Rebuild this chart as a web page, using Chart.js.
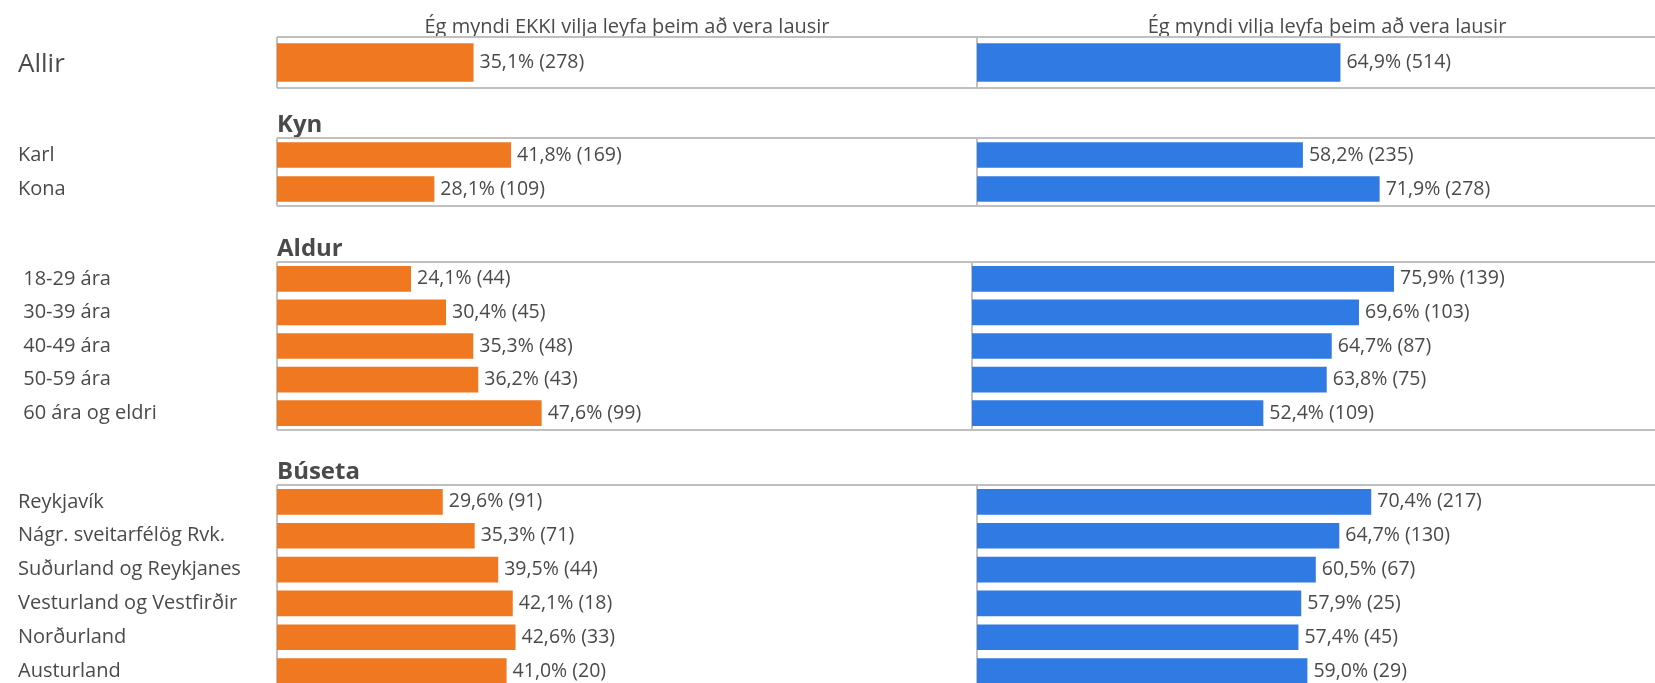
<!DOCTYPE html>
<html>
<head>
<meta charset="utf-8">
<script src="https://cdn.jsdelivr.net/npm/chart.js@4"></script>
<style>
html,body{margin:0;padding:0;background:#fff;}
body{width:1655px;height:683px;overflow:hidden;position:relative;}
canvas{position:absolute;left:0;}
</style>
</head>
<body>
<script>
// ---------- data ----------
const headers = ['Ég myndi EKKI vilja leyfa þeim að vera lausir', 'Ég myndi vilja leyfa þeim að vera lausir'];

const allirLabels = ['Allir'];
const allirEkki = [35.1];
const allirEkkiN = [278];
const allirJa = [64.9];
const allirJaN = [514];

const kynTitle = 'Kyn';
const kynLabels = ['Karl', 'Kona'];
const kynEkki = [41.8, 28.1];
const kynEkkiN = [169, 109];
const kynJa = [58.2, 71.9];
const kynJaN = [235, 278];

const aldurTitle = 'Aldur';
const aldurLabels = [' 18-29 ára', ' 30-39 ára', ' 40-49 ára', ' 50-59 ára', ' 60 ára og eldri'];
const aldurEkki = [24.1, 30.4, 35.3, 36.2, 47.6];
const aldurEkkiN = [44, 45, 48, 43, 99];
const aldurJa = [75.9, 69.6, 64.7, 63.8, 52.4];
const aldurJaN = [139, 103, 87, 75, 109];

const busetaTitle = 'Búseta';
const busetaLabels = ['Reykjavík', 'Nágr. sveitarfélög Rvk.', 'Suðurland og Reykjanes', 'Vesturland og Vestfirðir', 'Norðurland', 'Austurland'];
const busetaEkki = [29.6, 35.3, 39.5, 42.1, 42.6, 41.0];
const busetaEkkiN = [91, 71, 44, 18, 33, 20];
const busetaJa = [70.4, 64.7, 60.5, 57.9, 57.4, 59.0];
const busetaJaN = [217, 130, 67, 25, 45, 29];

// ---------- style ----------
const FONT = "'Open Sans', sans-serif";
const TEXT = '#4a4a4a';
const ORANGE = '#f07821';
const BLUE = '#307ae4';
const FRAME = '#c0c0c0';
const SPLIT = 125;   // each panel spans 0..125 %
const MAX = 250;

function fmt(v, n) { return v.toFixed(1).replace('.', ',') + '% (' + n + ')'; }

const framePlugin = {
  id: 'frame',
  beforeDatasetsDraw(chart) {
    const { ctx, chartArea: a } = chart;
    const xm = chart.scales.x.getPixelForValue(SPLIT);
    ctx.save();
    ctx.strokeStyle = FRAME;
    ctx.lineWidth = 2;
    ctx.beginPath();
    ctx.moveTo(a.left, a.top); ctx.lineTo(a.right, a.top);
    ctx.moveTo(a.left, a.bottom); ctx.lineTo(a.right, a.bottom);
    ctx.moveTo(a.left, a.top); ctx.lineTo(a.left, a.bottom);
    ctx.moveTo(xm, a.top); ctx.lineTo(xm, a.bottom);
    ctx.stroke();
    ctx.restore();
  }
};

const valuePlugin = {
  id: 'values',
  afterDatasetsDraw(chart) {
    const ctx = chart.ctx;
    ctx.save();
    ctx.font = '19.5px ' + FONT;
    ctx.fillStyle = TEXT;
    ctx.textAlign = 'left';
    ctx.textBaseline = 'middle';
    chart.data.datasets.forEach((ds, di) => {
      chart.getDatasetMeta(di).data.forEach((el, i) => {
        const end = Math.max(el.x, el.base);
        ctx.fillText(ds.valueLabels[i], end + 6, el.y);
      });
    });
    ctx.restore();
  }
};

function section(o) {
  const c = document.createElement('canvas');
  c.width = o.width; c.height = o.height;
  c.style.top = o.top + 'px';
  c.style.width = o.width + 'px'; c.style.height = o.height + 'px';
  document.body.appendChild(c);
  new Chart(c, {
    type: 'bar',
    data: {
      labels: o.labels,
      datasets: [
        { data: o.ekki.map(v => [0, v]), backgroundColor: ORANGE,
          valueLabels: o.ekki.map((v, i) => fmt(v, o.ekkiN[i])) },
        { data: o.ja.map(v => [SPLIT, SPLIT + v]), backgroundColor: BLUE,
          valueLabels: o.ja.map((v, i) => fmt(v, o.jaN[i])) }
      ]
    },
    options: {
      indexAxis: 'y',
      responsive: false,
      maintainAspectRatio: false,
      animation: false,
      devicePixelRatio: 1,
      layout: { padding: { left: 18, right: 0, top: 0, bottom: 2 } },
      datasets: { bar: { categoryPercentage: 1, barPercentage: o.bp, grouped: false, borderWidth: 0 } },
      scales: {
        x: {
          type: 'linear', min: 0, max: MAX, position: 'top',
          display: !!o.headers,
          grid: { display: false, drawTicks: false },
          border: { display: false },
          ticks: {
            autoSkip: false, maxRotation: 0, padding: 0, color: TEXT,
            font: { family: FONT, size: 20, lineHeight: 1 },
            callback: (v, i) => headers[i]
          },
          afterBuildTicks(s) { s.ticks = [{ value: SPLIT / 2 }, { value: SPLIT + SPLIT / 2 }]; },
          afterFit(s) {
            s.paddingLeft = 0; s.paddingRight = 0;
            if (o.headers) s.height = 37;
          }
        },
        y: {
          type: 'category', position: 'left',
          grid: { display: false, drawTicks: false },
          border: { display: false },
          ticks: { autoSkip: false, crossAlign: 'far', padding: 0, labelOffset: o.labelOffset || 0,
                   color: TEXT, font: { family: FONT, size: o.labelSize } },
          afterFit(s) { s.width = 259; s.paddingTop = 0; s.paddingBottom = 0; }
        }
      },
      plugins: {
        legend: { display: false },
        tooltip: { enabled: false },
        title: o.title ? {
          display: true, text: o.title, align: 'start', fullSize: false, position: 'top',
          color: TEXT, font: { family: FONT, size: 24, weight: 'bold', lineHeight: 1 },
          padding: { top: 0, bottom: 1 }
        } : { display: false }
      }
    },
    plugins: [framePlugin, valuePlugin]
  });
}

section({ top: 0, width: 1677, height: 90, headers: true, labels: allirLabels, ekki: allirEkki, ekkiN: allirEkkiN, ja: allirJa, jaN: allirJaN, bp: 0.753, labelSize: 26, labelOffset: 2 });
section({ top: 113, width: 1677, height: 95, title: kynTitle, labels: kynLabels, ekki: kynEkki, ekkiN: kynEkkiN, ja: kynJa, jaN: kynJaN, bp: 0.75, labelSize: 20 });
section({ top: 237, width: 1667, height: 195, title: aldurTitle, labels: aldurLabels, ekki: aldurEkki, ekkiN: aldurEkkiN, ja: aldurJa, jaN: aldurJaN, bp: 0.765, labelSize: 20 });
section({ top: 460, width: 1677, height: 230, title: busetaTitle, labels: busetaLabels, ekki: busetaEkki, ekkiN: busetaEkkiN, ja: busetaJa, jaN: busetaJaN, bp: 0.76, labelSize: 20 });
</script>
</body>
</html>
